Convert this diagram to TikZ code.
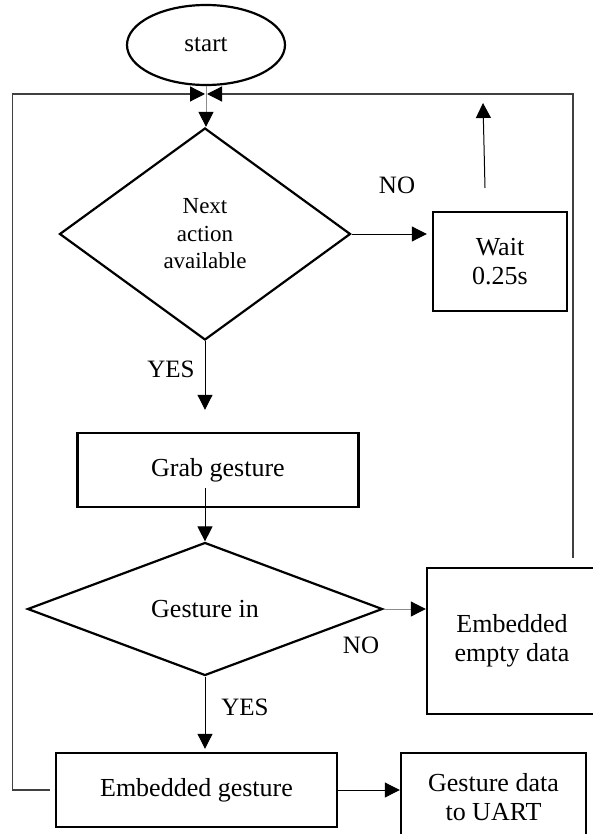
\documentclass[tikz,border=0pt]{standalone}
\usepackage{fontspec}
\setmainfont{Liberation Serif}
\usetikzlibrary{shapes.geometric,arrows.meta}

\begin{document}
\begin{tikzpicture}[x=0.5pt,y=-0.5pt,
   every node/.style={font=\fontsize{13}{14.5}\selectfont,align=center,inner sep=0pt},
   box/.style={draw,line width=1.2pt,rectangle},
   decision/.style={draw,line width=1.1pt,diamond},
   lbl/.style={font=\fontsize{12.5}{14}\selectfont},
   arr/.style={line width=0.5pt,-{Triangle[length=7.5pt,width=7.5pt,color=black]}},
   gline/.style={draw=black!45},
   loop/.style={draw=black!75,line width=0.6pt}]
\useasboundingbox (0,0) rectangle (593,834);
\node[draw,ellipse,line width=1.1pt,minimum width=79pt,minimum height=40pt,lbl] (start) at (206,45) {start};
\node[decision,minimum width=145.5pt,minimum height=106pt,font=\fontsize{11.5}{13.75}\selectfont] (d1) at (205,234) {Next\\action\\available};
\node[box,minimum width=67pt,minimum height=49.5pt] (wait) at (500,261.5) {Wait\\0.25s};
\node[box,minimum width=140.5pt,minimum height=37pt] (grab) at (218,470) {Grab gesture};
\node[decision,minimum width=177.5pt,minimum height=66.5pt] (d2) at (205,609) {Gesture in};
\node[box,minimum width=85pt,minimum height=73pt] (eempty) at (512,641) {Embedded\\empty data};
\node[box,minimum width=140.5pt,minimum height=37pt] (egest) at (196.5,790) {Embedded gesture};
\node[box,minimum width=92.5pt,minimum height=44pt] (gdata) at (493.5,797) {Gesture data\\to UART};
\node[lbl] (no1) at (397,185) {NO};
\node[lbl] (yes1) at (171,369) {YES};
\node[lbl] (no2) at (361,645) {NO};
\node[lbl] (yes2) at (245,707) {YES};
\coordinate (joinl) at (205,94);
\coordinate (joinr) at (207,94);
\coordinate (rfoot) at (573,558);
\coordinate (upfoot) at (485,188);
\coordinate (uptip) at (483,103);
\draw[arr,gline] (start.south) -- (start.south |- d1.north);
\draw[arr,loop,shorten <=2.5pt] (egest.west) -- ++(-42,0) |- (joinl);
\draw[arr,loop] (rfoot) |- (joinr);
\draw[arr,shorten >=2.5pt] (d1.east) -- (d1.east -| wait.west);
\draw[arr] (upfoot) -- (uptip);
\draw[arr,shorten >=11pt] (d1.south) -- (d1.south |- grab.north);
\draw[arr,shorten <=-10pt] (d2.north |- grab.south) -- (d2.north);
\draw[arr,gline] (d2.east) -- (d2.east -| eempty.west);
\draw[arr,shorten >=1.5pt] (d2.south) -- (d2.south |- egest.north);
\draw[arr] (egest.east) -- (egest.east -| gdata.west);
\end{tikzpicture}
\end{document}
